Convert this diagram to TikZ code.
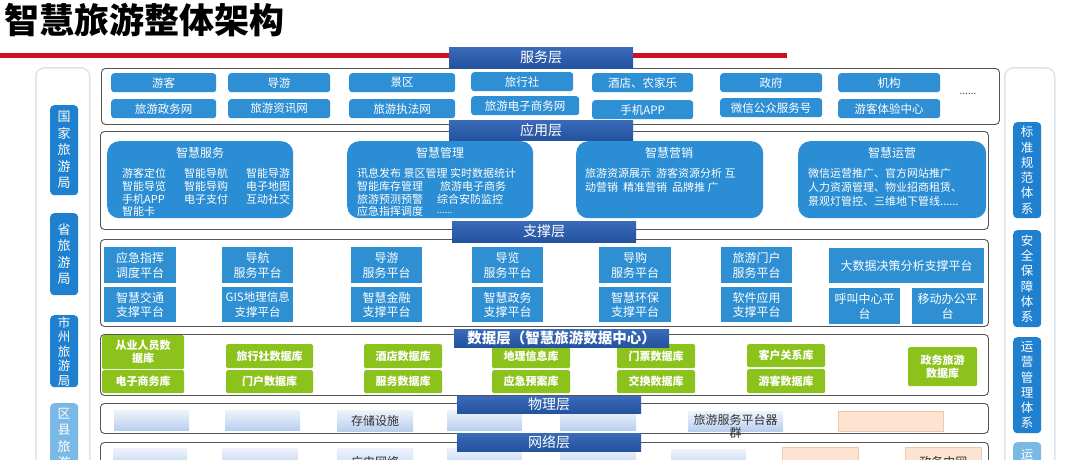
\documentclass[tikz,border=0pt]{standalone}
\usepackage{fontspec}
\setmainfont{Noto Sans CJK SC}
\newcommand{\myfs}[2]{\fontsize{#1}{#2}\selectfont}
\newcommand{\bx}[7]{\node[#6,anchor=north west,minimum width={#4pt-#2pt},minimum height={#5pt-#3pt}] (#1) at (#2,#3) {#7};}
\definecolor{svcblue}{HTML}{2F8FD5}
\definecolor{appblue}{HTML}{2B8DD3}
\definecolor{supblue}{HTML}{2E8FD3}
\definecolor{lbldark}{HTML}{23529F}
\definecolor{lbllight}{HTML}{3A6BB8}
\definecolor{dbgreen}{HTML}{8CC21C}
\definecolor{tagblue}{HTML}{1F80CF}
\definecolor{taglight}{HTML}{7AB8E6}
\definecolor{physlight}{HTML}{EEF3FC}
\definecolor{physdark}{HTML}{B9CFEF}
\definecolor{peach}{HTML}{FDE4D2}
\definecolor{peachline}{HTML}{F0C8AC}
\definecolor{frame}{HTML}{555555}
\definecolor{panel}{HTML}{DCE5EC}
\definecolor{redline}{HTML}{CF1020}
\begin{document}
\begin{tikzpicture}[x=1pt,y=-1pt,
  layer/.style={draw=frame,line width=0.9pt,rounded corners=4pt,fill=white,inner sep=0pt},
  panelbox/.style={draw=panel,line width=1.5pt,rounded corners=9pt,fill=white,inner sep=0pt},
  tag/.style={fill=tagblue,rounded corners=4pt,text=white,align=center,inner sep=0pt,font=\myfs{13}{16.5}},
  rtag/.style={tag,font=\myfs{12.5}{15.3}},
  svc/.style={fill=svcblue,rounded corners=3pt,text=white,inner sep=0pt,font=\myfs{11.5}{13}},
  app/.style={fill=appblue,rounded corners=12pt,inner sep=0pt},
  apptxt/.style={text=white,inner sep=0pt,anchor=west,font=\myfs{11}{13}},
  apptitle/.style={text=white,inner sep=0pt,font=\myfs{12}{14}},
  sup/.style={fill=supblue,text=white,align=center,inner sep=0pt,font=\myfs{12}{14.5}},
  db/.style={fill=dbgreen,text=white,align=center,inner sep=0pt,rounded corners=1.5pt,font=\myfs{11}{13}\bfseries},
  phys/.style={top color=physlight,bottom color=physdark,inner sep=0pt,text=black!80,font=\myfs{12}{14}},
  peachbox/.style={fill=peach,draw=peachline,line width=0.6pt,inner sep=0pt,text=black!80,font=\myfs{12}{14}},
  lbl/.style={top color=lbllight,bottom color=lbldark,text=white,inner sep=0pt,font=\myfs{14}{16}}
]
\useasboundingbox (0,0) rectangle (1080,459);
\clip (0,0) rectangle (1080,459);

% title and red line
\node[anchor=west,inner sep=0pt,font=\myfs{35}{37}\bfseries] (title) at (4,20) {智慧旅游整体架构};
\coordinate (rl) at (0,55);
\coordinate (rr) at (787,55);
\draw[redline,line width=5pt] (rl) -- (rr);

% side panels
\bx{lpanel}{35}{67}{89}{480}{panelbox}{}
\bx{rpanel}{1004}{67}{1054}{480}{panelbox}{}
\bx{t1}{50}{105}{78}{195}{tag}{国\\家\\旅\\游\\局}
\bx{t2}{50}{213}{78}{295}{tag}{省\\旅\\游\\局}
\bx{t3}{50}{315}{78}{387}{tag,font=\myfs{12.5}{14.5}}{市\\州\\旅\\游\\局}
\bx{t4}{50}{403}{78}{490}{tag,fill=taglight}{区\\县\\旅\\游\\局}
\bx{r1}{1013}{122}{1041}{218}{rtag}{标\\准\\规\\范\\体\\系}
\bx{r2}{1013}{230}{1041}{327}{rtag}{安\\全\\保\\障\\体\\系}
\bx{r3}{1013}{337}{1041}{433}{rtag}{运\\营\\管\\理\\体\\系}
\bx{r4}{1013}{442}{1041}{520}{rtag,fill=taglight}{}
\node[text=white,inner sep=0pt,font=\myfs{12.5}{15}] (r4t) at (1027,455) {运};

% layer frames
\bx{L1}{101}{68}{999}{124}{layer}{}
\bx{L2}{100}{131}{988}{229}{layer}{}
\bx{L3}{100}{239}{988}{326}{layer}{}
\bx{L4}{100}{334}{988}{395}{layer}{}
\bx{L5}{100}{403}{988}{433}{layer}{}
\bx{L6}{100}{442}{988}{490}{layer}{}

% service layer
\bx{s1}{111}{73}{216}{92}{svc}{游客}
\bx{s2}{228}{73}{330}{92}{svc}{导游}
\bx{s3}{349}{73}{455}{92}{svc}{景区}
\bx{s4}{471}{72}{573}{91}{svc}{旅行社}
\bx{s5}{592}{73}{693}{92}{svc}{酒店、农家乐}
\bx{s6}{720}{73}{822}{92}{svc}{政府}
\bx{s7}{838}{73}{940}{92}{svc}{机构}
\node[inner sep=0pt,font=\myfs{10}{12},text=black!70] (sdots) at (968,94) {......};
\bx{s8}{111}{99}{216}{118}{svc}{旅游政务网}
\bx{s9}{228}{99}{330}{118}{svc}{旅游资讯网}
\bx{s10}{349}{99}{455}{118}{svc}{旅游执法网}
\bx{s11}{471}{96}{579}{115}{svc}{旅游电子商务网}
\bx{s12}{592}{100}{693}{119}{svc}{手机APP}
\bx{s13}{720}{98}{822}{117}{svc}{微信公众服务号}
\bx{s14}{838}{99}{940}{118}{svc}{游客体验中心}

% application layer
\bx{a1}{107}{141}{293}{218}{app}{}
\node[apptitle] (a1t) at (200,153) {智慧服务};
\node[apptxt] (a1a) at (122,173) {游客定位};
\node[apptxt] (a1b) at (122,186) {智能导览};
\node[apptxt] (a1c) at (122,199) {手机APP};
\node[apptxt] (a1d) at (122,211) {智能卡};
\node[apptxt] (a1e) at (184,173) {智能导航};
\node[apptxt] (a1f) at (184,186) {智能导购};
\node[apptxt] (a1g) at (184,199) {电子支付};
\node[apptxt] (a1h) at (246,173) {智能导游};
\node[apptxt] (a1i) at (246,186) {电子地图};
\node[apptxt] (a1j) at (246,199) {互动社交};

\bx{a2}{347}{141}{533}{218}{app}{}
\node[apptitle] (a2t) at (440,153) {智慧管理};
\node[apptxt] (a2a) at (357,173) {讯息发布 景区管理 实时数据统计};
\node[apptxt] (a2b) at (357,186) {智能库存管理};
\node[apptxt] (a2c) at (357,199) {旅游预测预警};
\node[apptxt] (a2d) at (357,211) {应急指挥调度};
\node[apptxt] (a2e) at (440,186) {旅游电子商务};
\node[apptxt] (a2f) at (437,199) {综合安防监控};
\node[apptxt,font=\myfs{9}{10}] (a2g) at (437,213) {......};

\bx{a3}{576}{141}{763}{218}{app}{}
\node[apptitle] (a3t) at (669,153) {智慧营销};
\node[apptxt] (a3a) at (585,173) {旅游资源展示\ \ 游客资源分析 互};
\node[apptxt] (a3b) at (585,187) {动营销\ \ 精准营销\ \ 品牌推 广};

\bx{a4}{798}{141}{986}{218}{app}{}
\node[apptitle] (a4t) at (892,153) {智慧运营};
\node[apptxt] (a4a) at (808,173) {微信运营推广、官方网站推广};
\node[apptxt] (a4b) at (808,187) {人力资源管理、物业招商租赁、};
\node[apptxt] (a4c) at (808,201) {景观灯管控、三维地下管线......};

% support layer
\bx{p1}{104}{247}{176}{283}{sup}{应急指挥\\调度平台}
\bx{p2}{104}{287}{176}{322}{sup}{智慧交通\\支撑平台}
\bx{p3}{222}{247}{293}{283}{sup}{导航\\服务平台}
\bx{p4}{222}{287}{293}{322}{sup,font=\myfs{11.5}{14.5}}{GIS地理信息\\支撑平台}
\bx{p5}{351}{247}{422}{283}{sup}{导游\\服务平台}
\bx{p6}{351}{287}{422}{322}{sup}{智慧金融\\支撑平台}
\bx{p7}{472}{247}{543}{283}{sup}{导览\\服务平台}
\bx{p8}{472}{287}{543}{322}{sup}{智慧政务\\支撑平台}
\bx{p9}{599}{247}{671}{283}{sup}{导购\\服务平台}
\bx{p10}{599}{287}{671}{322}{sup}{智慧环保\\支撑平台}
\bx{p11}{721}{247}{792}{283}{sup}{旅游门户\\服务平台}
\bx{p12}{721}{287}{792}{322}{sup}{软件应用\\支撑平台}
\bx{p13}{829}{248}{984}{283}{sup}{大数据决策分析支撑平台}
\bx{p14}{829}{288}{900}{324}{sup}{呼叫中心平\\台}
\bx{p15}{912}{288}{983}{324}{sup}{移动办公平\\台}

% data layer
\bx{d1}{102}{335}{184}{369}{db}{从业人员数\\据库}
\bx{d2}{102}{370}{184}{393}{db}{电子商务库}
\bx{d3}{226}{344}{313}{368}{db}{旅行社数据库}
\bx{d4}{226}{370}{313}{393}{db}{门户数据库}
\bx{d5}{364}{344}{442}{368}{db}{酒店数据库}
\bx{d6}{364}{370}{442}{393}{db}{服务数据库}
\bx{d7}{492}{345}{570}{368}{db}{地理信息库}
\bx{d8}{492}{370}{570}{393}{db}{应急预案库}
\bx{d9}{617}{344}{695}{368}{db}{门票数据库}
\bx{d10}{617}{370}{695}{393}{db}{交换数据库}
\bx{d11}{747}{344}{825}{367}{db}{客户关系库}
\bx{d12}{747}{369}{825}{393}{db}{游客数据库}
\bx{d13}{908}{347}{977}{386}{db}{政务旅游\\数据库}

% physical layer
\bx{ph1}{114}{410}{189}{430}{phys}{}
\bx{ph2}{225}{410}{300}{430}{phys}{}
\bx{ph3}{337}{410}{413}{431}{phys}{存储设施}
\bx{ph4}{447}{410}{522}{430}{phys}{}
\bx{ph5}{560}{410}{636}{430}{phys}{}
\bx{ph6}{688}{411}{783}{431}{phys}{}
\node[inner sep=0pt,align=center,text=black!80,font=\myfs{12}{13}] (ph6t) at (735.5,426.5) {旅游服务平台器\\群};
\bx{ph7}{838}{411}{943}{431}{peachbox}{}

% network layer
\bx{n1}{113}{448}{187}{470}{phys}{}
\bx{n2}{222}{448}{298}{470}{phys}{}
\bx{n3}{337}{448}{413}{476}{phys}{广电网络}
\bx{n4}{447}{448}{522}{470}{phys}{}
\bx{n5}{560}{448}{636}{470}{phys}{}
\bx{n6}{671}{449}{746}{470}{phys}{}
\bx{n7}{782}{447}{858}{470}{peachbox}{}
\bx{n8}{905}{447}{981}{476}{peachbox}{政务内网}

% layer labels
\bx{lb1}{449}{47}{633}{68}{lbl}{服务层}
\bx{lb2}{449}{120}{633}{140}{lbl}{应用层}
\bx{lb3}{452}{221}{636}{242}{lbl}{支撑层}
\bx{lb4}{454}{329}{669}{347}{lbl,font=\myfs{14.5}{16}\bfseries}{数据层（智慧旅游数据中心）}
\bx{lb5}{457}{396}{641}{413}{lbl}{物理层}
\bx{lb6}{457}{433}{641}{451}{lbl}{网络层}
\end{tikzpicture}
\end{document}
